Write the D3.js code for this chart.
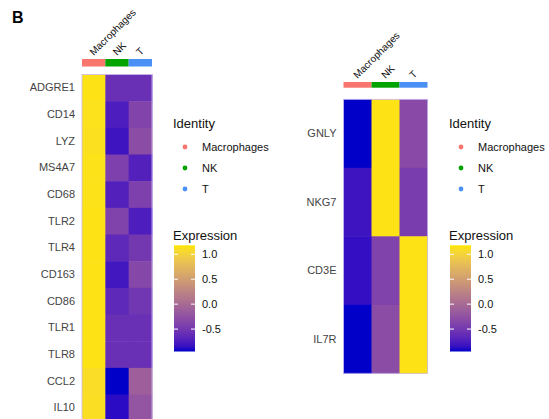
<!DOCTYPE html>
<html>
<head>
<meta charset="utf-8">
<script src="https://cdn.jsdelivr.net/npm/d3@7"></script>
<style>
  body { margin: 0; background: #fff; }
  text { font-family: "Liberation Sans", Arial, sans-serif; }
</style>
</head>
<body>
<div id="chart"></div>
<script>
const W = 549, H = 419;

// data
const idents = ["Macrophages", "NK", "T"];
const identColors = ["#F8766D", "#00A300", "#4A90F5"];

const leftGenes = ["ADGRE1", "CD14", "LYZ", "MS4A7", "CD68", "TLR2", "TLR4", "CD163", "CD86", "TLR1", "TLR8", "CCL2", "IL10"];
const leftValues = [
  [1.15, -0.58, -0.58],
  [1.13, -0.75, -0.38],
  [1.12, -0.82, -0.30],
  [1.14, -0.42, -0.72],
  [1.14, -0.72, -0.42],
  [1.15, -0.40, -0.75],
  [1.15, -0.65, -0.50],
  [1.15, -0.80, -0.35],
  [1.15, -0.65, -0.52],
  [1.15, -0.58, -0.58],
  [1.15, -0.58, -0.58],
  [1.10, -0.95, -0.12],
  [1.11, -0.88, -0.22]
];

const rightGenes = ["GNLY", "NKG7", "CD3E", "IL7R"];
const rightValues = [
  [-0.95, 1.15, -0.32],
  [-0.82, 1.15, -0.45],
  [-0.86, -0.40, 1.15],
  [-0.95, -0.30, 1.15]
];

const legendTicks = [1.0, 0.5, 0.0, -0.5];
const valueDomain = [-0.95, 1.18];

const color = d3.scaleLinear()
  .domain(valueDomain)
  .range(["#0000C8", "#FFE600"])
  .interpolate(d3.interpolateLab)
  .clamp(true);

const svg = d3.select("#chart").append("svg")
  .attr("width", W).attr("height", H);

svg.append("text")
  .attr("x", 12).attr("y", 23)
  .attr("font-size", 16).attr("font-weight", "bold")
  .text("B");

function heatmap(opt) {
  const g = svg.append("g");
  const x = d3.scaleBand().domain(idents).range([opt.x0, opt.x1]);
  const y = d3.scaleBand().domain(opt.genes).range([opt.y0, opt.y0 + opt.rowH * opt.genes.length]);

  // identity bar
  g.selectAll(".bar").data(idents).join("rect")
    .attr("x", d => x(d)).attr("y", opt.barY)
    .attr("width", x.bandwidth()).attr("height", opt.barH)
    .attr("fill", (d, i) => identColors[i]);

  // column labels
  g.selectAll(".collab").data(idents).join("text")
    .attr("transform", d => `translate(${x(d) + x.bandwidth() / 2},${opt.barY - 3}) rotate(-45)`)
    .attr("font-size", 10).attr("fill", "#111")
    .text(d => d);

  // cells
  const cells = [];
  opt.genes.forEach((gname, r) => idents.forEach((id, c) => cells.push({ gene: gname, id, v: opt.values[r][c] })));
  g.selectAll(".cell").data(cells).join("rect")
    .attr("x", d => x(d.id)).attr("y", d => y(d.gene))
    .attr("width", x.bandwidth() + 0.5).attr("height", y.bandwidth() + 0.5)
    .attr("fill", d => color(d.v));

  g.append("rect")
    .attr("x", opt.x0).attr("y", opt.y0)
    .attr("width", opt.x1 - opt.x0).attr("height", y.range()[1] - opt.y0)
    .attr("fill", "none").attr("stroke", "#c8b8f0").attr("stroke-width", 0.8);

  // row labels
  g.append("g")
    .attr("transform", `translate(${opt.x0 - 7},0)`)
    .call(d3.axisLeft(y).tickSize(0).tickPadding(0))
    .call(a => a.select(".domain").remove())
    .call(a => a.selectAll("text")
      .attr("font-size", 11).attr("fill", "#444")
      .attr("font-family", "'Liberation Sans', Arial, sans-serif"));
}

function legend(lx) {
  const g = svg.append("g");
  g.append("text").attr("x", lx).attr("y", 128).attr("font-size", 13).attr("fill", "#111").text("Identity");
  const iy = d3.scalePoint().domain(idents).range([147, 189]);
  g.selectAll(".dot").data(idents).join("circle")
    .attr("cx", lx + 12).attr("cy", d => iy(d)).attr("r", 2.4)
    .attr("fill", (d, i) => identColors[i]);
  g.selectAll(".ilab").data(idents).join("text")
    .attr("x", lx + 29).attr("y", d => iy(d) + 4)
    .attr("font-size", 11).attr("fill", "#111").text(d => d);

  g.append("text").attr("x", lx).attr("y", 240).attr("font-size", 13).attr("fill", "#111").text("Expression");

  const cy = d3.scaleLinear().domain(valueDomain).range([351.5, 245.3]);
  const gid = "grad" + lx;
  const grad = svg.append("defs").append("linearGradient")
    .attr("id", gid).attr("x1", 0).attr("y1", 1).attr("x2", 0).attr("y2", 0);
  d3.range(0, 1.0001, 0.05).forEach(t => {
    grad.append("stop").attr("offset", t)
      .attr("stop-color", color(valueDomain[0] + t * (valueDomain[1] - valueDomain[0])));
  });
  const bx = lx + 1, bw = 21;
  g.append("rect").attr("x", bx).attr("y", cy(valueDomain[1]))
    .attr("width", bw).attr("height", cy(valueDomain[0]) - cy(valueDomain[1]))
    .attr("fill", `url(#${gid})`);
  legendTicks.forEach(v => {
    g.append("line").attr("x1", bx).attr("x2", bx + 4).attr("y1", cy(v)).attr("y2", cy(v))
      .attr("stroke", "#fff").attr("stroke-width", 1);
    g.append("line").attr("x1", bx + bw - 4).attr("x2", bx + bw).attr("y1", cy(v)).attr("y2", cy(v))
      .attr("stroke", "#fff").attr("stroke-width", 1);
  });
  g.selectAll(".tlab").data(legendTicks).join("text")
    .attr("x", bx + bw + 7).attr("y", d => cy(d) + 4)
    .attr("font-size", 11).attr("fill", "#111")
    .text(d => d3.format(".1f")(d).replace("\u2212", "-"));
}

heatmap({ genes: leftGenes, values: leftValues, x0: 82, x1: 152, y0: 74.5, rowH: 26.67, barY: 59, barH: 7.5 });
heatmap({ genes: rightGenes, values: rightValues, x0: 343.5, x1: 427.5, y0: 99.3, rowH: 68.5, barY: 82, barH: 5.7 });
legend(173);
legend(449);
</script>
</body>
</html>
